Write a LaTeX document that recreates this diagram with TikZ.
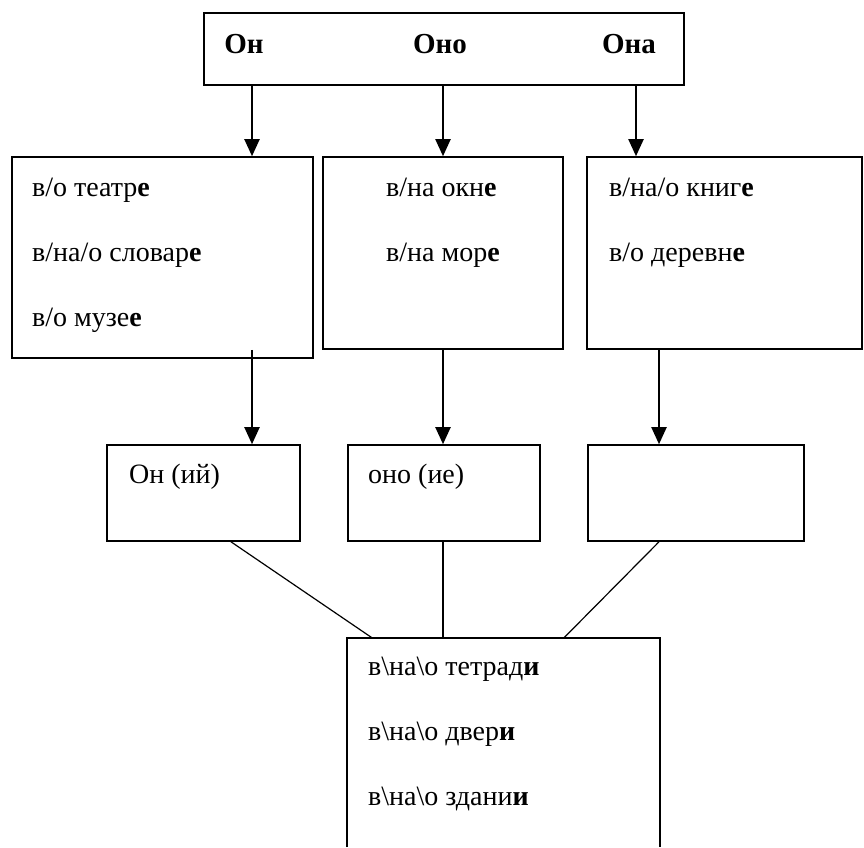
\documentclass[tikz,border=0pt]{standalone}
\usepackage{fontspec}
\setmainfont{Liberation Serif}
\usetikzlibrary{arrows.meta}

\begin{document}
\begin{tikzpicture}[x=1pt, y=-1pt,
        box/.style={draw, line width=1.6pt, rectangle, inner sep=0pt},
        word/.style={anchor=base west, inner sep=0pt, font=\fontsize{28}{32}\selectfont},
        head/.style={anchor=base, inner sep=0pt, font=\fontsize{29}{32}\selectfont\bfseries},
        arr/.style={-{Triangle[width=15pt,length=17pt]}, line width=2pt},
        link/.style={line width=1.2pt}]
    \useasboundingbox (0,0) rectangle (864,847);

    % Top box
    \node[box, minimum width=480pt, minimum height=72pt] (top) at (444,49) {};
    \node[head] (on)  at (244,53) {Он};
    \node[head] (ono) at (440,53) {Оно};
    \node[head] (ona) at (629,53) {Она};

    % Second row
    \node[box, minimum width=301pt, minimum height=201pt] (b1) at (162.5,257.5) {};
    \node[box, minimum width=240pt, minimum height=192pt] (b2) at (443,253) {};
    \node[box, minimum width=275pt, minimum height=192pt] (b3) at (724.5,253) {};
    \node[word] (t1) at (32,196) {в/о театр\textbf{е}};
    \node[word] (t2) at (32,261) {в/на/о словар\textbf{е}};
    \node[word] (t3) at (32,326) {в/о музе\textbf{е}};
    \node[word] (t4) at (386,196) {в/на окн\textbf{е}};
    \node[word] (t5) at (386,261) {в/на мор\textbf{е}};
    \node[word] (t6) at (609,196) {в/на/о книг\textbf{е}};
    \node[word] (t7) at (609,261) {в/о деревн\textbf{е}};

    % Third row
    \node[box, minimum width=193pt, minimum height=96pt] (c1) at (203.5,493) {};
    \node[box, minimum width=192pt, minimum height=96pt] (c2) at (444,493) {};
    \node[box, minimum width=216pt, minimum height=96pt] (c3) at (696,493) {};
    \node[word] (s1) at (129,483) {Он (ий)};
    \node[word] (s2) at (368,483) {оно (ие)};

    % Bottom box, open at the bottom
    \node[inner sep=0pt, minimum width=313pt, minimum height=209pt] (bot) at (503.5,742.5) {};
    \draw[line width=1.6pt] (bot.south west) -- (bot.north west) -- (bot.north east) -- (bot.south east);
    \node[word] (u1) at (368,675) {в\textbackslash на\textbackslash о тетрад\textbf{и}};
    \node[word] (u2) at (368,740) {в\textbackslash на\textbackslash о двер\textbf{и}};
    \node[word] (u3) at (368,805) {в\textbackslash на\textbackslash о здани\textbf{и}};

    % Arrows down
    \draw[arr] (top.south -| 252,0) -- (b1.north -| 252,0);
    \draw[arr] (top.south -| 443,0) -- (b2.north -| 443,0);
    \draw[arr] (top.south -| 636,0) -- (b3.north -| 636,0);
    \draw[arr] (b2.south -| 252,0) -- (c1.north -| 252,0);
    \draw[arr] (b2.south -| 443,0) -- (c2.north -| 443,0);
    \draw[arr] (b3.south -| 659,0) -- (c3.north -| 659,0);

    % Lines into the bottom box
    \draw[link] (c1.south -| 231,0) -- (bot.north -| 372,0);
    \draw[link] (c2.south -| 443,0) -- (bot.north -| 443,0);
    \draw[link] (c3.south -| 659,0) -- (bot.north -| 564,0);
\end{tikzpicture}
\end{document}
